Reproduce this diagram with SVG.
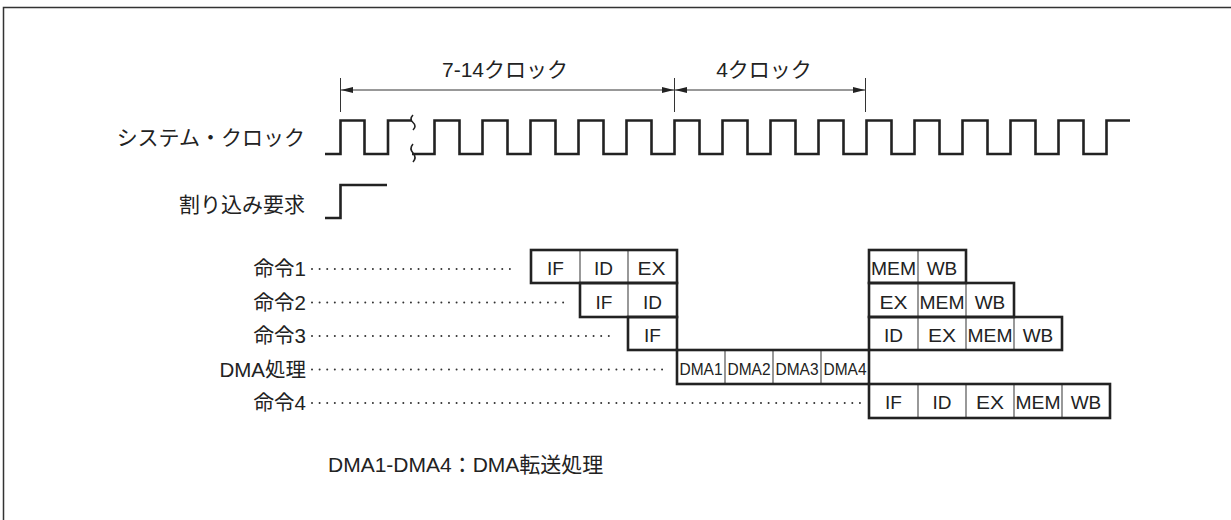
<svg xmlns="http://www.w3.org/2000/svg" width="1231" height="520" viewBox="0 0 1231 520">
<defs>
<style>
.lbl{font-family:"Liberation Sans","Noto Sans CJK JP",sans-serif;font-size:21px;fill:#222;}
.row{font-family:"Liberation Sans","Noto Sans CJK JP",sans-serif;font-size:20.5px;fill:#222;}
.cell{font-family:"Liberation Sans",Arial,sans-serif;font-size:19px;fill:#222;text-anchor:middle;}
.dma{font-family:"Liberation Sans",Arial,sans-serif;font-size:16px;fill:#222;text-anchor:middle;}
.thick{fill:none;stroke:#222;stroke-width:2.6;}
.thin{stroke:#444;stroke-width:1.1;}
.sig{fill:none;stroke:#222;stroke-width:2.6;stroke-linejoin:miter;}
.dim{stroke:#333;stroke-width:1;fill:none;}
.dots{stroke:#333;stroke-width:2;stroke-linecap:round;stroke-dasharray:0.01 7.6;}
</style>
<marker id="arr" viewBox="0 0 12 6" refX="12" refY="3" markerWidth="12" markerHeight="6" markerUnits="userSpaceOnUse" orient="auto-start-reverse">
<path d="M0,0 L12,3 L0,6 z" fill="#222"/>
</marker>
</defs>
<rect width="1231" height="520" fill="#fff"/>
<rect x="3.5" y="7.5" width="1240" height="530" fill="none" stroke="#333" stroke-width="1.5"/>

<g id="connectors">
<line class="dim" x1="340.5" y1="78" x2="340.5" y2="112"/>
<line class="dim" x1="674.5" y1="78" x2="674.5" y2="112"/>
<line class="dim" x1="865.5" y1="78" x2="865.5" y2="112"/>
<line class="dim" x1="341" y1="90" x2="674" y2="90" marker-start="url(#arr)" marker-end="url(#arr)"/>
<line class="dim" x1="675" y1="90" x2="865" y2="90" marker-start="url(#arr)" marker-end="url(#arr)"/>
<line class="dots" x1="312" y1="269" x2="515" y2="269"/>
<line class="dots" x1="312" y1="302.5" x2="565" y2="302.5"/>
<line class="dots" x1="312" y1="336" x2="613" y2="336"/>
<line class="dots" x1="312" y1="369.5" x2="663" y2="369.5"/>
<line class="dots" x1="312" y1="403" x2="860" y2="403"/>
</g>

<g id="dim-labels">
<text class="lbl" x="505" y="77" text-anchor="middle">7-14クロック</text>
<text class="lbl" x="764" y="77" text-anchor="middle">4クロック</text>
</g>

<g id="clock">
<text class="lbl" x="305" y="145" text-anchor="end">システム・クロック</text>
<path class="sig" d="M325,154 H340.5 V120.5 H364.5 V154 H388 V120.5 H412"/>
<path class="sig" d="M412,154 H434.5 V120.5 H459.5 V154 H482.5 V120.5 H507.5 V154 H530.5 V120.5 H555.5 V154 H578.5 V120.5 H603.5 V154 H626.5 V120.5 H651.5 V154 H674.5 V120.5 H699.5 V154 H722.5 V120.5 H747.5 V154 H770.5 V120.5 H795.5 V154 H818.5 V120.5 H843.5 V154 H866.5 V120.5 H891.5 V154 H914.5 V120.5 H939.5 V154 H962.5 V120.5 H987.5 V154 H1010.5 V120.5 H1035.5 V154 H1058.5 V120.5 H1083.5 V154 H1106.5 V120.5 H1130"/>
<path d="M413,115 q-4,4 0,7.5 q4,3.5 0,7.5" fill="none" stroke="#222" stroke-width="1.6"/>
<path d="M413,144 q-4,4.5 0,9 q4,4.5 0,9" fill="none" stroke="#222" stroke-width="1.6"/>
</g>

<g id="interrupt">
<text class="lbl" x="305" y="212" text-anchor="end">割り込み要求</text>
<path class="sig" d="M325,218 H340.5 V185 H387"/>
</g>

<g id="inst1">
<text class="row" x="306" y="276" text-anchor="end">命令1</text>
<line class="thin" x1="580" y1="250" x2="580" y2="283"/>
<line class="thin" x1="628" y1="250" x2="628" y2="283"/>
<rect class="thick" x="531" y="250" width="146" height="33"/>
<text class="cell" x="555.5" y="275">IF</text>
<text class="cell" x="603.5" y="275">ID</text>
<text class="cell" x="651.5" y="275" textLength="28" lengthAdjust="spacingAndGlyphs">EX</text>
<line class="thin" x1="918" y1="250" x2="918" y2="283"/>
<rect class="thick" x="869" y="250" width="97" height="33"/>
<text class="cell" x="893.5" y="275" textLength="45" lengthAdjust="spacingAndGlyphs">MEM</text>
<text class="cell" x="942" y="275">WB</text>
</g>

<g id="inst2">
<text class="row" x="306" y="309.5" text-anchor="end">命令2</text>
<line class="thin" x1="628" y1="283" x2="628" y2="317"/>
<rect class="thick" x="580" y="283" width="97" height="34"/>
<text class="cell" x="604" y="308.5">IF</text>
<text class="cell" x="652.5" y="308.5">ID</text>
<line class="thin" x1="918" y1="283" x2="918" y2="317"/>
<line class="thin" x1="966" y1="283" x2="966" y2="317"/>
<rect class="thick" x="869" y="283" width="145" height="34"/>
<text class="cell" x="893.5" y="308.5" textLength="28" lengthAdjust="spacingAndGlyphs">EX</text>
<text class="cell" x="942" y="308.5" textLength="45" lengthAdjust="spacingAndGlyphs">MEM</text>
<text class="cell" x="990" y="308.5">WB</text>
</g>

<g id="inst3">
<text class="row" x="306" y="343" text-anchor="end">命令3</text>
<rect class="thick" x="628" y="317" width="49" height="33"/>
<text class="cell" x="652.5" y="341.5">IF</text>
<line class="thin" x1="918" y1="317" x2="918" y2="350"/>
<line class="thin" x1="966" y1="317" x2="966" y2="350"/>
<line class="thin" x1="1014" y1="317" x2="1014" y2="350"/>
<rect class="thick" x="869" y="317" width="193" height="33"/>
<text class="cell" x="893.5" y="341.5">ID</text>
<text class="cell" x="942" y="341.5" textLength="28" lengthAdjust="spacingAndGlyphs">EX</text>
<text class="cell" x="990" y="341.5" textLength="45" lengthAdjust="spacingAndGlyphs">MEM</text>
<text class="cell" x="1038" y="341.5">WB</text>
</g>

<g id="dma">
<text class="row" x="306" y="376.5" text-anchor="end">DMA処理</text>
<line class="thin" x1="725" y1="350" x2="725" y2="384"/>
<line class="thin" x1="773" y1="350" x2="773" y2="384"/>
<line class="thin" x1="821" y1="350" x2="821" y2="384"/>
<rect class="thick" x="677" y="350" width="192" height="34"/>
<text class="dma" x="701" y="375" textLength="43" lengthAdjust="spacingAndGlyphs">DMA1</text>
<text class="dma" x="749" y="375" textLength="43" lengthAdjust="spacingAndGlyphs">DMA2</text>
<text class="dma" x="797" y="375" textLength="43" lengthAdjust="spacingAndGlyphs">DMA3</text>
<text class="dma" x="845" y="375" textLength="43" lengthAdjust="spacingAndGlyphs">DMA4</text>
</g>

<g id="inst4">
<text class="row" x="306" y="410" text-anchor="end">命令4</text>
<line class="thin" x1="918" y1="384" x2="918" y2="418"/>
<line class="thin" x1="966" y1="384" x2="966" y2="418"/>
<line class="thin" x1="1014" y1="384" x2="1014" y2="418"/>
<line class="thin" x1="1062" y1="384" x2="1062" y2="418"/>
<rect class="thick" x="869" y="384" width="241" height="34"/>
<text class="cell" x="893.5" y="409">IF</text>
<text class="cell" x="942" y="409">ID</text>
<text class="cell" x="990" y="409" textLength="28" lengthAdjust="spacingAndGlyphs">EX</text>
<text class="cell" x="1038" y="409" textLength="45" lengthAdjust="spacingAndGlyphs">MEM</text>
<text class="cell" x="1086" y="409">WB</text>
</g>

<g id="note">
<text class="lbl" x="328" y="472">DMA1-DMA4：DMA転送処理</text>
</g>
</svg>
